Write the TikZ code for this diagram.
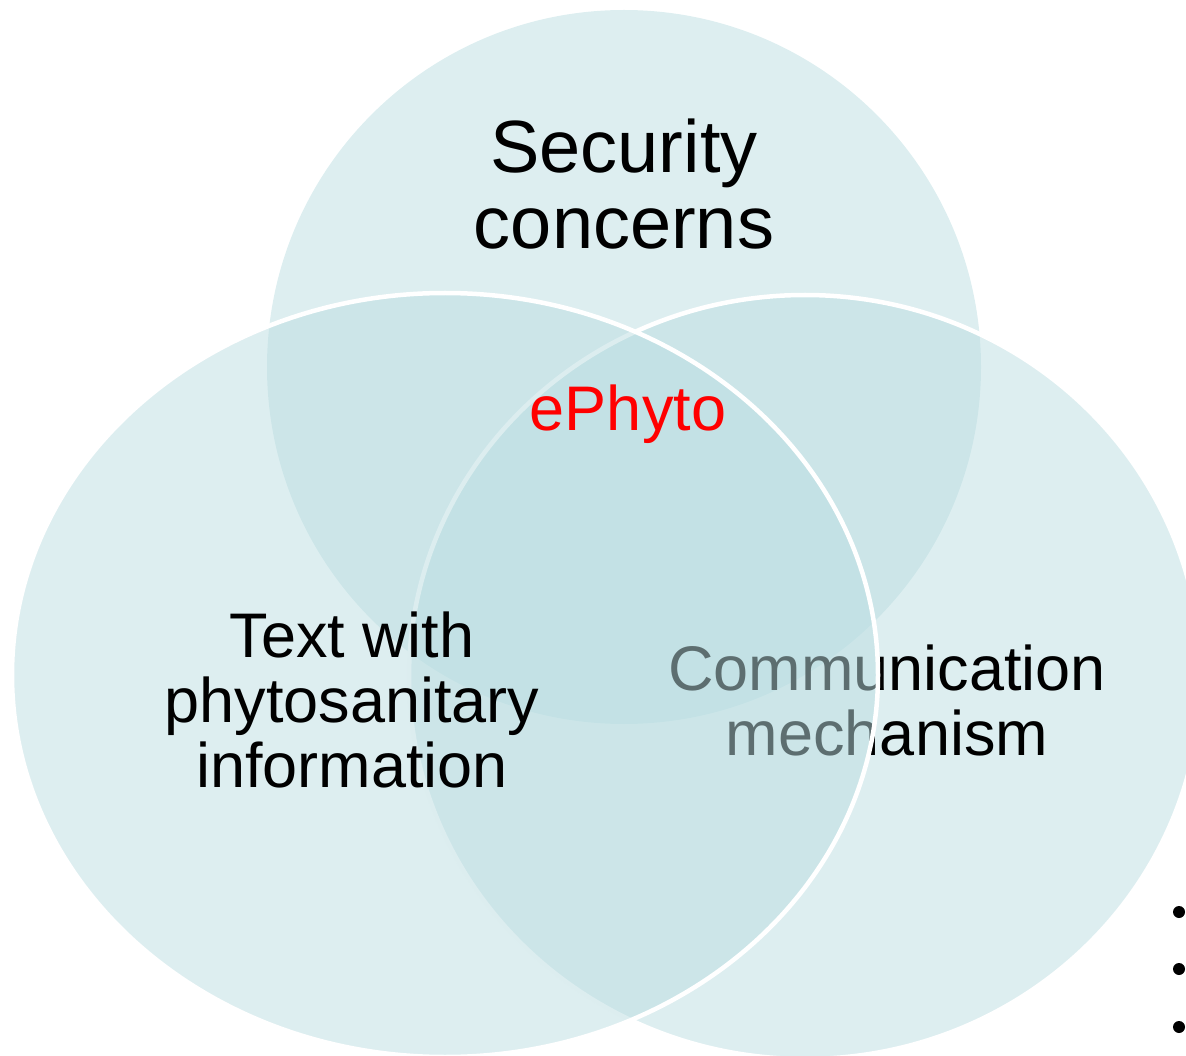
\documentclass[tikz,border=0pt]{standalone}
\usepackage{fontspec}
\setmainfont{Liberation Sans}
\definecolor{venn}{RGB}{187,221,225}
\definecolor{ephred}{RGB}{255,0,0}
\begin{document}
\begin{tikzpicture}[x=1pt,y=-1pt,
  vennfill/.style={fill=venn, fill opacity=0.5},
  vennborder/.style={draw=white, line width=4.5pt},
  lbl/.style={align=center, inner sep=0pt, text=black, font=\fontsize{63}{65}\selectfont},
  bulletdot/.style={circle, fill=black, inner sep=0pt, minimum size=12pt}]
\useasboundingbox (0,0) rectangle (1186,1056);
\clip (0,0) rectangle (1186,1056);
% top circle
\path[vennfill] (624,367) circle [radius=357pt];
\node[lbl, font=\fontsize{74}{76}\selectfont] (sec) at (624,184) {Security\\concerns};
% right ellipse
\path[vennfill, vennborder] (805,677) ellipse [x radius=396pt, y radius=382pt];
\node[lbl] (comm) at (887,700) {Communication\\mechanism};
% left ellipse
\path[vennfill, vennborder] (445,675) ellipse [x radius=433pt, y radius=382pt];
\node[lbl] (text) at (352,700) {Text with\\phytosanitary\\information};
% centre
\node[lbl, text=ephred, anchor=base] (eph) at (628,430) {ePhyto};
% bullets
\node[bulletdot] (b1) at (1179,912) {};
\node[bulletdot] (b2) at (1179,969) {};
\node[bulletdot] (b3) at (1179,1027) {};
\end{tikzpicture}
\end{document}
